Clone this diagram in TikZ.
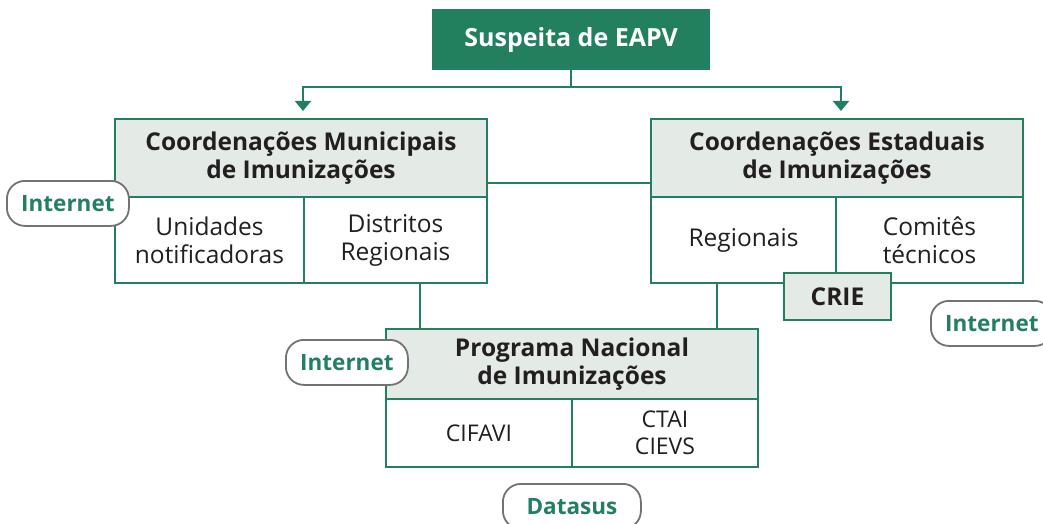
\documentclass[tikz,border=0pt]{standalone}
\usepackage{fontspec}
\setmainfont{Open Sans}
\usetikzlibrary{arrows.meta}
\definecolor{eapvgreen}{HTML}{23805F}
\definecolor{headgray}{HTML}{E4EBE6}
\definecolor{pillgray}{HTML}{737373}
\definecolor{inkdark}{HTML}{231F20}

\begin{document}
\begin{tikzpicture}[x=1pt,y=-1pt,
  cell/.style={draw=eapvgreen, line width=2pt, fill=white, anchor=north west, inner sep=0pt, align=center, text=inkdark, font=\fontsize{24.5}{28}\selectfont},
  head/.style={cell, fill=headgray, font=\bfseries\fontsize{24.5}{28}\selectfont},
  pill/.style={draw=pillgray, line width=1.8pt, fill=white, rounded corners=18pt, minimum width=122pt, minimum height=45pt, anchor=north west, inner sep=0pt, text=eapvgreen, font=\bfseries\fontsize{22.5}{26}\selectfont},
  link/.style={draw=eapvgreen, line width=2pt}]
\useasboundingbox (0,0) rectangle (1043,524);

\node[fill=eapvgreen, text=white, anchor=north west, minimum width=278pt, minimum height=61pt, font=\bfseries\fontsize{25}{28}\selectfont] (susp) at (432,9) {Suspeita de EAPV};

\node[head, minimum width=372pt, minimum height=78pt] (munH) at (114,118) {Coordenações Municipais\\de Imunizações};
\node[cell, minimum width=189pt, minimum height=86pt] (munL) at (114,196) {Unidades\\notificadoras};
\node[cell, minimum width=183pt, minimum height=86pt] (munR) at (303,196) {Distritos\\Regionais};

\node[head, minimum width=372pt, minimum height=78pt] (estH) at (650,118) {Coordenações Estaduais\\de Imunizações};
\node[cell, minimum width=185pt, minimum height=86pt] (estL) at (650,196) {Regionais};
\node[cell, minimum width=187pt, minimum height=86pt] (estR) at (835,196) {Comitês\\técnicos};
\node[head, minimum width=107pt, minimum height=47pt] (crie) at (783,272) {CRIE};

\node[head, minimum width=372pt, minimum height=70pt] (pniH) at (385,328) {Programa Nacional\\de Imunizações};
\node[cell, minimum width=186pt, minimum height=68pt, font=\fontsize{23}{27}\selectfont] (pniL) at (385,398) {CIFAVI};
\node[cell, minimum width=186pt, minimum height=68pt, font=\fontsize{23}{27}\selectfont] (pniR) at (571,398) {CTAI\\CIEVS};

% connectors
\draw[link,-{Triangle[width=16pt,length=10pt]}] (susp.south) -- ++(0,17) -| ([xshift=2pt,yshift=7pt]munH.north);
\draw[link,-{Triangle[width=16pt,length=10pt]}] (susp.south) ++(0,17) -| ([xshift=4pt,yshift=7pt]estH.north);
\draw[link] ([yshift=-25pt]munH.east) -- ([yshift=-25pt]munH.east -| estH.west);
\draw[link] ([xshift=24pt]munR.south) -- ([xshift=24pt]munR.south |- pniH.north);
\draw[link] ([xshift=-27pt]estL.south) -- ([xshift=-27pt]estL.south |- pniH.north);

% pills
\node[pill] (net1) at (6,180) {Internet};
\node[pill] (net2) at (930,300) {Internet};
\node[pill] (net3) at (285,339) {Internet};
\node[pill, minimum width=138pt] (datasus) at (502,483) {Datasus};
\end{tikzpicture}
\end{document}
